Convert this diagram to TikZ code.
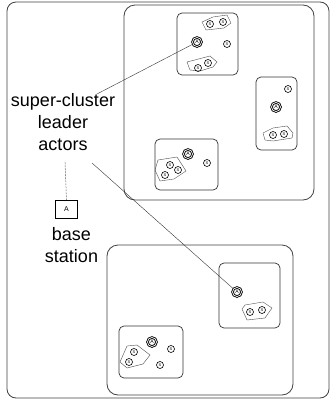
\documentclass[tikz,border=0pt]{standalone}
\usepackage{fontspec}
\setmainfont{Liberation Sans}
\usetikzlibrary{positioning}

\tikzset{
  frame/.style={draw=black!75, line width=0.8pt, rounded corners=9pt},
  clusterbox/.style={draw=black!80, line width=0.7pt, rounded corners=5pt},
  group/.style={draw=black!70, line width=0.4pt},
  sensor/.style={circle, draw, line width=0.6pt, inner sep=0pt, minimum size=7pt, font=\fontsize{4}{4}\selectfont},
  leader/.style={circle, draw, double, double distance=0.7pt, line width=0.9pt, inner sep=0pt, minimum size=9pt, font=\fontsize{5}{5}\selectfont},
  label/.style={align=center, font=\fontsize{18}{22}\selectfont},
  link/.style={draw=black!80, line width=0.4pt}
}

\begin{document}
\begin{tikzpicture}[x=1pt, y=-1pt]
\useasboundingbox (0,0) rectangle (330,402);

% network area and super-clusters
\draw[frame] (7,2) rectangle (329,398);
\draw[frame, rounded corners=11pt] (124,5) rectangle (314,200);
\draw[frame, rounded corners=11pt] (107,245) rectangle (293,395);

% top cluster
\draw[clusterbox] (177,13) rectangle (238,75);
\draw[group] (202,22) -- (206,30) -- (224,28) -- (231,23) -- (227,15) -- (213,17) -- cycle;
\draw[group] (187,62) -- (190,70) -- (200,71) -- (213,67) -- (217,62) -- (210,56) -- cycle;
\node[sensor] (s11) at (210,24) {S};
\node[sensor] (s12) at (223,22) {S};
\node[leader] (A1) at (197,42) {A};
\node[sensor] (s13) at (227,44) {S};
\node[sensor] (s14) at (198,68) {S};
\node[sensor] (s15) at (208,63) {S};

% right cluster
\draw[clusterbox] (256,77) rectangle (297,150);
\draw[group] (263,133) -- (265,140) -- (273,141) -- (292,138) -- (293,133) -- (287,126) -- (273,128) -- cycle;
\node[sensor] (s21) at (288,89) {S};
\node[leader] (A2) at (276,107) {A};
\node[sensor] (s22) at (273,135) {S};
\node[sensor] (s23) at (284,134) {S};

% left cluster
\draw[clusterbox] (155,139) rectangle (218,190);
\draw[group] (158,160) -- (155,170) -- (160,181) -- (174,179) -- (186,171) -- (177,157) -- cycle;
\node[leader] (A3) at (188,154) {A};
\node[sensor] (s31) at (207,163) {S};
\node[sensor] (s32) at (170,165) {S};
\node[sensor] (s33) at (178,170) {S};
\node[sensor] (s34) at (165,175) {S};

% lower right cluster
\draw[clusterbox] (219,263) rectangle (280,328);
\draw[group] (242,309) -- (247,320) -- (265,318) -- (272,308) -- (263,302) -- (245,305) -- cycle;
\node[leader] (A4) at (237,292) {A};
\node[sensor] (s41) at (250,312) {S};
\node[sensor] (s42) at (262,310) {S};

% lower left cluster
\draw[clusterbox] (119,326) rectangle (183,378);
\draw[group] (127,346) -- (120,362) -- (127,368) -- (143,364) -- (150,355) -- (137,345) -- cycle;
\node[leader] (A5) at (152,342) {A};
\node[sensor] (s51) at (171,349) {S};
\node[sensor] (s52) at (160,365) {S};
\node[sensor] (s53) at (134,352) {S};
\node[sensor] (s54) at (129,362) {S};

% labels
\node[label] (lead) at (63,122) {super-cluster\\leader\\actors};
\node[draw, line width=0.6pt, minimum width=22pt, minimum height=18pt, inner sep=0pt, font=\fontsize{7}{7}\selectfont] (bs) at (66.5,209.5) {A};
\node[label, below=5pt of bs, xshift=5pt] (bslabel) {base\\station};

\coordinate (t1) at (97,94);
\coordinate (t2) at (92,163);
\coordinate (t3) at (65,162);
\draw[link] (t1) -- (A1);
\draw[link] (t2) -- (A4);
\draw[black, line width=0.5pt, densely dotted] (t3) -- (bs.north);
\end{tikzpicture}
\end{document}
